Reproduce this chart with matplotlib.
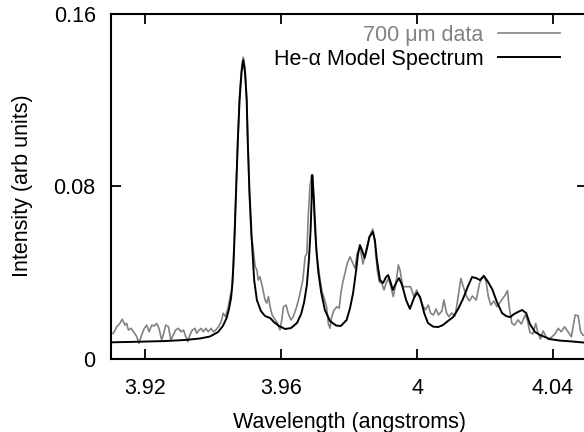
import matplotlib
matplotlib.use("Agg")
import matplotlib.pyplot as plt
from matplotlib.ticker import FixedLocator

plt.rcParams['font.family'] = ['Liberation Sans', 'DejaVu Sans']

# He-alpha model spectrum (black)
model_wl = [3.9100, 3.9185, 3.9259, 3.9318, 3.9362, 3.9391, 3.9415, 3.9429, 3.9440, 3.9447,
            3.9453, 3.9457, 3.9460, 3.9463, 3.9468, 3.9473, 3.9478, 3.9484, 3.9489, 3.9494,
            3.9499, 3.9502, 3.9507, 3.9514, 3.9521, 3.9529, 3.9541, 3.9553, 3.9568, 3.9579,
            3.9594, 3.9612, 3.9629, 3.9647, 3.9659, 3.9668, 3.9676, 3.9682, 3.9687, 3.9690,
            3.9692, 3.9696, 3.9700, 3.9704, 3.9710, 3.9718, 3.9729, 3.9744, 3.9762, 3.9776,
            3.9793, 3.9803, 3.9812, 3.9821, 3.9826, 3.9832, 3.9838, 3.9846, 3.9853, 3.9860,
            3.9870, 3.9876, 3.9882, 3.9891, 3.9900, 3.9909, 3.9915, 3.9922, 3.9929, 3.9938,
            3.9947, 3.9956, 3.9968, 3.9979, 3.9991, 4.0000, 4.0009, 4.0021, 4.0032, 4.0047,
            4.0062, 4.0076, 4.0091, 4.0106, 4.0121, 4.0135, 4.0150, 4.0162, 4.0174, 4.0185,
            4.0197, 4.0209, 4.0221, 4.0235, 4.0250, 4.0262, 4.0274, 4.0285, 4.0297, 4.0309,
            4.0321, 4.0332, 4.0347, 4.0362, 4.0391, 4.0421, 4.0456, 4.0491, 4.0500]
model_int = [0.0075, 0.0078, 0.0081, 0.0086, 0.0093, 0.0102, 0.0123, 0.0151, 0.0188, 0.0230,
             0.0281, 0.0346, 0.0434, 0.0550, 0.0781, 0.1013, 0.1199, 0.1329, 0.1384, 0.1329,
             0.1199, 0.1013, 0.0781, 0.0550, 0.0364, 0.0271, 0.0220, 0.0197, 0.0188, 0.0169,
             0.0151, 0.0137, 0.0141, 0.0165, 0.0206, 0.0262, 0.0341, 0.0457, 0.0596, 0.0735,
             0.0851, 0.0758, 0.0628, 0.0503, 0.0397, 0.0308, 0.0225, 0.0174, 0.0153, 0.0151,
             0.0179, 0.0234, 0.0304, 0.0410, 0.0480, 0.0526, 0.0503, 0.0466, 0.0512, 0.0563,
             0.0588, 0.0550, 0.0457, 0.0364, 0.0350, 0.0378, 0.0387, 0.0355, 0.0318, 0.0350,
             0.0373, 0.0341, 0.0271, 0.0230, 0.0281, 0.0305, 0.0285, 0.0211, 0.0165, 0.0148,
             0.0146, 0.0155, 0.0174, 0.0192, 0.0230, 0.0276, 0.0336, 0.0378, 0.0373, 0.0364,
             0.0383, 0.0355, 0.0322, 0.0262, 0.0211, 0.0197, 0.0192, 0.0206, 0.0216, 0.0225,
             0.0211, 0.0160, 0.0123, 0.0109, 0.0090, 0.0083, 0.0079, 0.0074, 0.0073]

# 700 um measured data (grey)
data_wl = [3.9100, 3.9107, 3.9117, 3.9126, 3.9133, 3.9141, 3.9146, 3.9151, 3.9159, 3.9166,
           3.9176, 3.9182, 3.9190, 3.9198, 3.9205, 3.9212, 3.9220, 3.9227, 3.9234, 3.9241,
           3.9249, 3.9255, 3.9261, 3.9269, 3.9276, 3.9283, 3.9290, 3.9298, 3.9306, 3.9313,
           3.9320, 3.9326, 3.9332, 3.9339, 3.9347, 3.9352, 3.9359, 3.9365, 3.9371, 3.9379,
           3.9386, 3.9394, 3.9401, 3.9408, 3.9416, 3.9424, 3.9430, 3.9437, 3.9445, 3.9450,
           3.9455, 3.9459, 3.9463, 3.9468, 3.9474, 3.9479, 3.9485, 3.9489, 3.9494, 3.9499,
           3.9503, 3.9507, 3.9512, 3.9517, 3.9524, 3.9529, 3.9533, 3.9538, 3.9546, 3.9553,
           3.9558, 3.9563, 3.9568, 3.9573, 3.9579, 3.9588, 3.9597, 3.9603, 3.9607, 3.9615,
           3.9621, 3.9629, 3.9636, 3.9646, 3.9656, 3.9664, 3.9671, 3.9676, 3.9680, 3.9685,
           3.9690, 3.9695, 3.9700, 3.9707, 3.9715, 3.9721, 3.9726, 3.9734, 3.9739, 3.9744,
           3.9749, 3.9756, 3.9764, 3.9771, 3.9776, 3.9781, 3.9788, 3.9795, 3.9803, 3.9811,
           3.9818, 3.9824, 3.9832, 3.9841, 3.9850, 3.9860, 3.9870, 3.9876, 3.9883, 3.9889,
           3.9896, 3.9903, 3.9909, 3.9916, 3.9923, 3.9930, 3.9938, 3.9945, 3.9950, 3.9958,
           3.9970, 3.9981, 3.9991, 3.9999, 4.0007, 4.0014, 4.0024, 4.0033, 4.0040, 4.0048,
           4.0056, 4.0063, 4.0073, 4.0079, 4.0087, 4.0094, 4.0102, 4.0112, 4.0121, 4.0129,
           4.0136, 4.0146, 4.0154, 4.0163, 4.0174, 4.0184, 4.0195, 4.0203, 4.0210, 4.0217,
           4.0226, 4.0235, 4.0249, 4.0259, 4.0266, 4.0271, 4.0279, 4.0287, 4.0297, 4.0307,
           4.0318, 4.0324, 4.0332, 4.0341, 4.0349, 4.0356, 4.0363, 4.0371, 4.0379, 4.0386,
           4.0396, 4.0406, 4.0415, 4.0424, 4.0434, 4.0444, 4.0454, 4.0465, 4.0474, 4.0481,
           4.0489, 4.0497]
data_int = [0.0114, 0.0117, 0.0147, 0.0163, 0.0182, 0.0155, 0.0163, 0.0132, 0.0140, 0.0124,
            0.0101, 0.0070, 0.0109, 0.0140, 0.0155, 0.0124, 0.0155, 0.0151, 0.0163, 0.0140,
            0.0086, 0.0117, 0.0155, 0.0147, 0.0086, 0.0109, 0.0132, 0.0140, 0.0124, 0.0132,
            0.0101, 0.0078, 0.0109, 0.0132, 0.0140, 0.0117, 0.0132, 0.0140, 0.0124, 0.0140,
            0.0124, 0.0140, 0.0124, 0.0132, 0.0147, 0.0171, 0.0210, 0.0194, 0.0240, 0.0287,
            0.0318, 0.0410, 0.0573, 0.0805, 0.1060, 0.1245, 0.1366, 0.1398, 0.1347, 0.1208,
            0.0990, 0.0758, 0.0573, 0.0526, 0.0426, 0.0410, 0.0364, 0.0379, 0.0327, 0.0271,
            0.0257, 0.0287, 0.0240, 0.0206, 0.0188, 0.0169, 0.0132, 0.0188, 0.0240, 0.0248,
            0.0210, 0.0179, 0.0194, 0.0240, 0.0302, 0.0364, 0.0472, 0.0488, 0.0658, 0.0797,
            0.0851, 0.0766, 0.0581, 0.0457, 0.0364, 0.0308, 0.0285, 0.0240, 0.0163, 0.0140,
            0.0194, 0.0225, 0.0240, 0.0233, 0.0302, 0.0349, 0.0395, 0.0442, 0.0472, 0.0442,
            0.0418, 0.0488, 0.0518, 0.0438, 0.0503, 0.0565, 0.0601, 0.0534, 0.0410, 0.0356,
            0.0349, 0.0318, 0.0349, 0.0372, 0.0333, 0.0287, 0.0349, 0.0434, 0.0410, 0.0333,
            0.0333, 0.0333, 0.0287, 0.0318, 0.0287, 0.0257, 0.0225, 0.0248, 0.0210, 0.0202,
            0.0230, 0.0202, 0.0220, 0.0271, 0.0210, 0.0194, 0.0211, 0.0197, 0.0287, 0.0372,
            0.0333, 0.0287, 0.0267, 0.0290, 0.0271, 0.0349, 0.0385, 0.0357, 0.0285, 0.0248,
            0.0267, 0.0240, 0.0271, 0.0294, 0.0315, 0.0240, 0.0163, 0.0155, 0.0179, 0.0160,
            0.0202, 0.0183, 0.0121, 0.0114, 0.0163, 0.0117, 0.0090, 0.0128, 0.0102, 0.0088,
            0.0100, 0.0114, 0.0140, 0.0124, 0.0147, 0.0124, 0.0101, 0.0202, 0.0198, 0.0124,
            0.0107, 0.0114]

xticks = [3.92, 3.96, 4.00, 4.04]
xtick_labels = ["3.92", "3.96", "4", "4.04"]
yticks = [0, 0.08, 0.16]
ytick_labels = ["0", "0.08", "0.16"]

grey = '#828282'
fs = 15.5

fig = plt.figure(figsize=(5.84, 4.32), dpi=100)
ax = fig.add_axes([0.1901, 0.1701, 0.8151, 0.7986])

ax.plot(data_wl, data_int, color=grey, lw=1.2, label="700 \u03bcm data")
ax.plot(model_wl, model_int, color='black', lw=1.4, label="He-\u03b1 Model Spectrum")

ax.set_xlim(3.91, 4.05)
ax.set_ylim(0, 0.16)
ax.xaxis.set_major_locator(FixedLocator(xticks))
ax.set_xticklabels(xtick_labels)
ax.yaxis.set_major_locator(FixedLocator(yticks))
ax.set_yticklabels(ytick_labels)

ax.tick_params(direction='in', length=7, width=1.3, top=True, right=True, labelsize=fs)
ax.tick_params(axis='x', pad=14)
ax.tick_params(axis='y', pad=11)
for s in ax.spines.values():
    s.set_linewidth(1.5)

ax.set_xlabel("Wavelength (angstroms)", fontsize=fs)
ax.set_ylabel("Intensity (arb units)", fontsize=fs)
ax.xaxis.set_label_coords(0.5, -0.155)
ax.yaxis.set_label_coords(-0.164, 0.5)

leg = ax.legend(loc='upper right', bbox_to_anchor=(560 / 584, 1 - 25 / 432),
                bbox_transform=fig.transFigure, frameon=False, markerfirst=False,
                fontsize=fs, handlelength=2.9, handletextpad=0.65,
                labelspacing=0.12, borderpad=0, borderaxespad=0)
leg.get_texts()[0].set_color(grey)

fig.savefig("out.png", dpi=100)
